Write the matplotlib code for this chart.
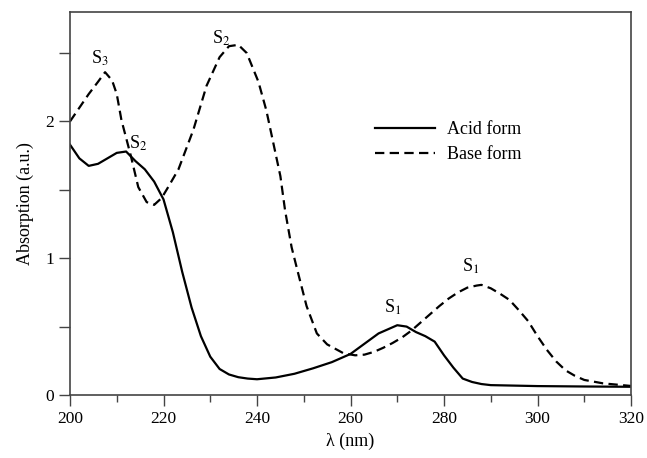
import matplotlib
matplotlib.use("Agg")
import matplotlib.pyplot as plt

plt.rcParams['font.family'] = ['Liberation Serif', 'DejaVu Serif']
plt.rcParams['mathtext.fontset'] = 'stix'

acid_x = [200, 202, 204, 206, 208, 210, 212, 214, 216, 218, 220, 222, 224, 226, 228, 230,
          232, 234, 236, 238, 240, 244, 248, 252, 256, 260, 264, 266, 268, 270, 272, 274,
          276, 278, 280, 282, 284, 286, 288, 290, 300, 310, 320]
acid_y = [1.83, 1.73, 1.675, 1.69, 1.73, 1.77, 1.78, 1.71, 1.65, 1.56, 1.43, 1.19, 0.90, 0.64,
          0.43, 0.28, 0.19, 0.15, 0.13, 0.12, 0.115, 0.128, 0.155, 0.195, 0.24, 0.30, 0.40,
          0.45, 0.48, 0.51, 0.50, 0.46, 0.43, 0.39, 0.29, 0.20, 0.12, 0.095, 0.08, 0.072,
          0.065, 0.062, 0.060]

base_x = [200, 202, 204, 206, 207.5, 209, 210, 211, 212, 213, 214.6, 216.4, 218, 219.6, 221,
          223.2, 226.4, 229.2, 232, 234, 236, 237.8, 240.3, 242, 243.5, 245, 246, 247.4,
          248.8, 250.6, 252.8, 255, 258.5, 261, 263, 265, 267, 269, 271, 273, 275, 277, 279,
          281, 283, 285, 287, 288, 290, 292, 294, 296, 298, 300, 302, 304, 306, 308, 310, 314,
          320]
base_y = [2.0, 2.1, 2.2, 2.29, 2.36, 2.3, 2.2, 2.01, 1.88, 1.75, 1.52, 1.41, 1.39, 1.44, 1.52,
          1.65, 1.94, 2.26, 2.47, 2.55, 2.56, 2.50, 2.29, 2.08, 1.84, 1.60, 1.35, 1.08,
          0.89, 0.65, 0.45, 0.37, 0.305, 0.29, 0.295, 0.315, 0.345, 0.38, 0.42, 0.47, 0.53,
          0.59, 0.65, 0.705, 0.75, 0.785, 0.80, 0.805, 0.78, 0.74, 0.695, 0.62, 0.54, 0.43,
          0.33, 0.245, 0.18, 0.14, 0.11, 0.085, 0.066]

labels_text = [r'S$_3$', r'S$_2$', r'S$_2$', r'S$_1$', r'S$_1$']
labels_x = [206.4, 214.6, 232.3, 269.1, 285.6]
labels_y = [2.46, 1.84, 2.61, 0.64, 0.94]

fig = plt.figure(figsize=(6.47, 4.58), dpi=100)
ax = fig.add_axes([0.1082, 0.1376, 0.8671, 0.8362])

ax.plot(acid_x, acid_y, color='black', lw=1.6, label='Acid form')
ax.plot(base_x, base_y, color='black', lw=1.6, dashes=(4.2, 2.4), label='Base form')

for t, x, y in zip(labels_text, labels_x, labels_y):
    ax.text(x, y, t, fontsize=13, ha='center', va='center')

ax.set_xlim(200, 320)
ax.set_ylim(0, 2.8)
ax.set_xticks([200, 220, 240, 260, 280, 300, 320])
ax.set_xticks([210, 230, 250, 270, 290, 310], minor=True)
ax.set_yticks([0, 1, 2])
ax.set_yticks([0.5, 1.5, 2.5], minor=True)
ax.tick_params(axis='both', which='major', direction='out', length=8, width=1.0,
               colors='#444444', labelcolor='black', labelsize=12.5)
ax.tick_params(axis='x', which='minor', direction='out', length=5, width=1.0, colors='#444444')
ax.tick_params(axis='y', which='minor', direction='out', length=8, width=1.0, colors='#444444')
for s in ax.spines.values():
    s.set_color('#444444')
    s.set_linewidth(1.2)

ax.set_xlabel('λ (nm)', fontsize=13, labelpad=4)
ax.set_ylabel('Absorption (a.u.)', fontsize=13, labelpad=8)

ax.legend(loc='upper left', bbox_to_anchor=(0.515, 0.757), frameon=False, fontsize=13,
          handlelength=3.3, handletextpad=0.7, labelspacing=0.45)

fig.savefig('out.png', dpi=100)
